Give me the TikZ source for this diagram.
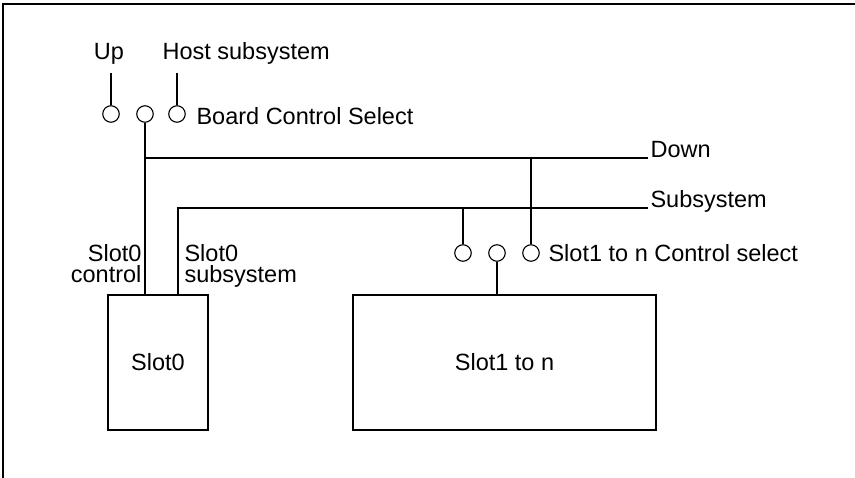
\documentclass[tikz,border=0pt]{standalone}
\usepackage{fontspec}
\setmainfont{Liberation Sans}
\usetikzlibrary{calc}

\begin{document}
\begin{tikzpicture}[x=1pt, y=-1pt, line width=1.1pt,
    port/.style={circle, draw, minimum size=16.5pt, inner sep=0pt},
    slotbox/.style={draw, inner sep=0pt},
    lbl/.style={inner sep=0pt, font=\fontsize{23.5}{20}\selectfont},
    tight/.style={lbl, text height=16pt, text depth=0pt}]
    \useasboundingbox (0,0) rectangle (855,478);

    % Rahmen oben und links
    \draw[line width=1.8pt] (855,4) -- (3,4) -- (3,478);

    % Wahlschalter der Karte
    \node[port] (bcs1) at (111,114) {};
    \node[port] (bcs2) at (145,114) {};
    \node[port] (bcs3) at (177,114) {};
    \node[lbl, anchor=base west] (bcs) at (196,125) {Board Control Select};

    % Zuleitungen Up und Host subsystem
    \node[lbl, anchor=base] (up) at (109,60) {Up};
    \node[lbl, anchor=base west] (host) at (162,60) {Host subsystem};
    \coordinate (upend) at (111,73);
    \coordinate (hostend) at (177,73);
    \draw (upend) -- (bcs1);
    \draw (hostend) -- (bcs3);

    % Steckplaetze
    \node[slotbox, lbl, minimum width=100pt, minimum height=135pt] (slot0) at (158,362.5) {Slot0};
    \node[slotbox, lbl, minimum width=303pt, minimum height=135pt] (slot1) at (504.5,362.5) {Slot1 to n};

    % Wahlschalter der Steckplaetze 1 bis n
    \node[port] (sc1) at (463,253) {};
    \node[port] (sc2) at (497,253) {};
    \node[port] (sc3) at (531,253) {};
    \node[lbl, anchor=base west] (scs) at (548,262) {Slot1 to n Control select};

    % Leitungen Down und Subsystem
    \coordinate (downend) at (648,158);
    \coordinate (subend) at (648,208);
    \coordinate (s0in) at (178,295);
    \draw (bcs2) -- (bcs2 |- slot0.north);
    \draw (bcs2 |- downend) -- (downend);
    \draw (s0in) |- (subend);
    \draw (sc3) -- (sc3 |- downend);
    \draw (sc1) -- (sc1 |- subend);
    \draw (sc2) -- (sc2 |- slot1.north);
    \node[lbl, anchor=base west] (down) at ($(downend)+(2,0)$) {Down};
    \node[lbl, anchor=base west] (sub) at ($(subend)+(2,0)$) {Subsystem};

    % Beschriftung der Slot0-Leitungen
    \node[tight, anchor=base east] (s0ctl) at (142,262) {Slot0};
    \node[tight, anchor=base east] (s0ctlb) at (142,283) {control};
    \node[tight, anchor=base west] (s0sub) at (184,262) {Slot0};
    \node[tight, anchor=base west] (s0subb) at (184,283) {subsystem};
\end{tikzpicture}
\end{document}
